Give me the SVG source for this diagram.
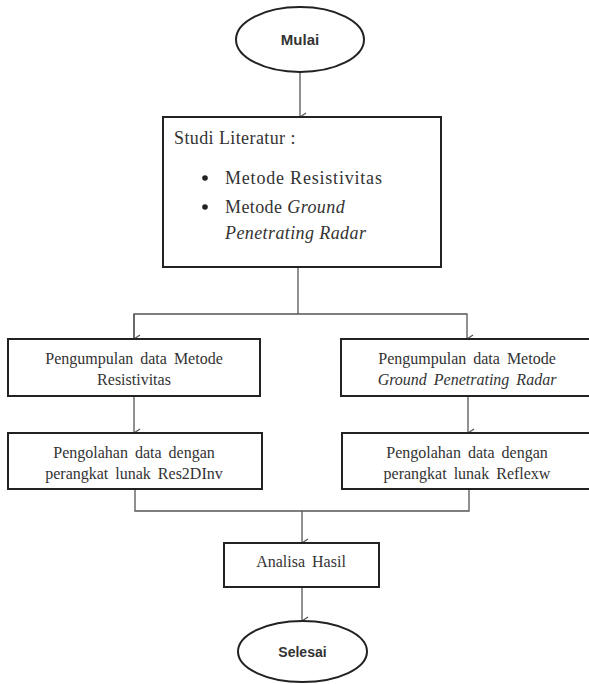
<svg xmlns="http://www.w3.org/2000/svg" width="589" height="684" viewBox="0 0 589 684">
<defs>
<style>
.box{fill:#fff;stroke:#222;stroke-width:2}
.term{fill:#fff;stroke:#222;stroke-width:2}
.conn{fill:none;stroke:#555;stroke-width:1.3}
.t{font-family:"Liberation Serif","Times New Roman",serif;font-size:16px;fill:#333;text-anchor:middle;word-spacing:3px}
.tl{font-family:"Liberation Serif","Times New Roman",serif;font-size:18px;fill:#333;letter-spacing:0.4px}
.tb{font-family:"Liberation Sans",Arial,sans-serif;font-size:15px;font-weight:bold;fill:#333;text-anchor:middle}
.i{font-style:italic}
</style>
<marker id="arr" markerWidth="12" markerHeight="10" refX="6" refY="8" orient="auto-start-reverse" markerUnits="userSpaceOnUse" viewBox="0 0 12 10">
<path d="M2,2 L6,8 L10,2" fill="none" stroke="#555" stroke-width="1.3"/>
</marker>
</defs>
<rect width="589" height="684" fill="#fff"/>
<g id="connectors">
<path class="conn" d="M300,72 V117" marker-end="url(#arr)"/>
<path class="conn" d="M298,267 V314"/>
<path class="conn" d="M134,339 V314 H467 V339" marker-end="url(#arr)"/>
<path class="conn" d="M134,314 V339" marker-end="url(#arr)"/>
<path class="conn" d="M134,396 V433" marker-end="url(#arr)"/>
<path class="conn" d="M468,396 V433" marker-end="url(#arr)"/>
<path class="conn" d="M135,489 V511 H469 V489"/>
<path class="conn" d="M302,511 V543" marker-end="url(#arr)"/>
<path class="conn" d="M302,587 V621" marker-end="url(#arr)"/>
</g>
<g id="mulai">
<ellipse class="term" cx="300" cy="39.5" rx="64" ry="32.5"/>
<text class="tb" x="300" y="44.5">Mulai</text>
</g>
<g id="studi-literatur">
<rect class="box" x="163" y="117" width="278" height="150"/>
<text class="tl" x="174" y="144">Studi Literatur :</text>
<circle cx="205" cy="178" r="2.8" fill="#222"/>
<text class="tl" x="225" y="184" style="letter-spacing:0.8px">Metode Resistivitas</text>
<circle cx="205" cy="207" r="2.8" fill="#222"/>
<text class="tl" x="225" y="213">Metode <tspan class="i">Ground</tspan></text>
<text class="tl i" x="225" y="239">Penetrating Radar</text>
</g>
<g id="pengumpulan-res">
<rect class="box" x="8" y="339" width="252" height="57"/>
<text class="t" x="134" y="364">Pengumpulan data Metode</text>
<text class="t" x="134" y="385">Resistivitas</text>
</g>
<g id="pengumpulan-gpr">
<rect class="box" x="341" y="339" width="252" height="57"/>
<text class="t" x="467" y="364">Pengumpulan data Metode</text>
<text class="t i" x="467" y="385">Ground Penetrating Radar</text>
</g>
<g id="pengolahan-res">
<rect class="box" x="8" y="433" width="254" height="56"/>
<text class="t" x="134" y="458">Pengolahan data dengan</text>
<text class="t" x="134" y="479">perangkat lunak Res2DInv</text>
</g>
<g id="pengolahan-gpr">
<rect class="box" x="342" y="433" width="251" height="56"/>
<text class="t" x="467" y="458">Pengolahan data dengan</text>
<text class="t" x="467" y="479">perangkat lunak Reflexw</text>
</g>
<g id="analisa">
<rect class="box" x="224" y="543" width="155" height="44"/>
<text class="t" x="301" y="567">Analisa Hasil</text>
</g>
<g id="selesai">
<ellipse class="term" cx="302.5" cy="651.5" rx="64.5" ry="30.5"/>
<text class="tb" x="302.5" y="656.5" style="font-size:14px">Selesai</text>
</g>
</svg>
